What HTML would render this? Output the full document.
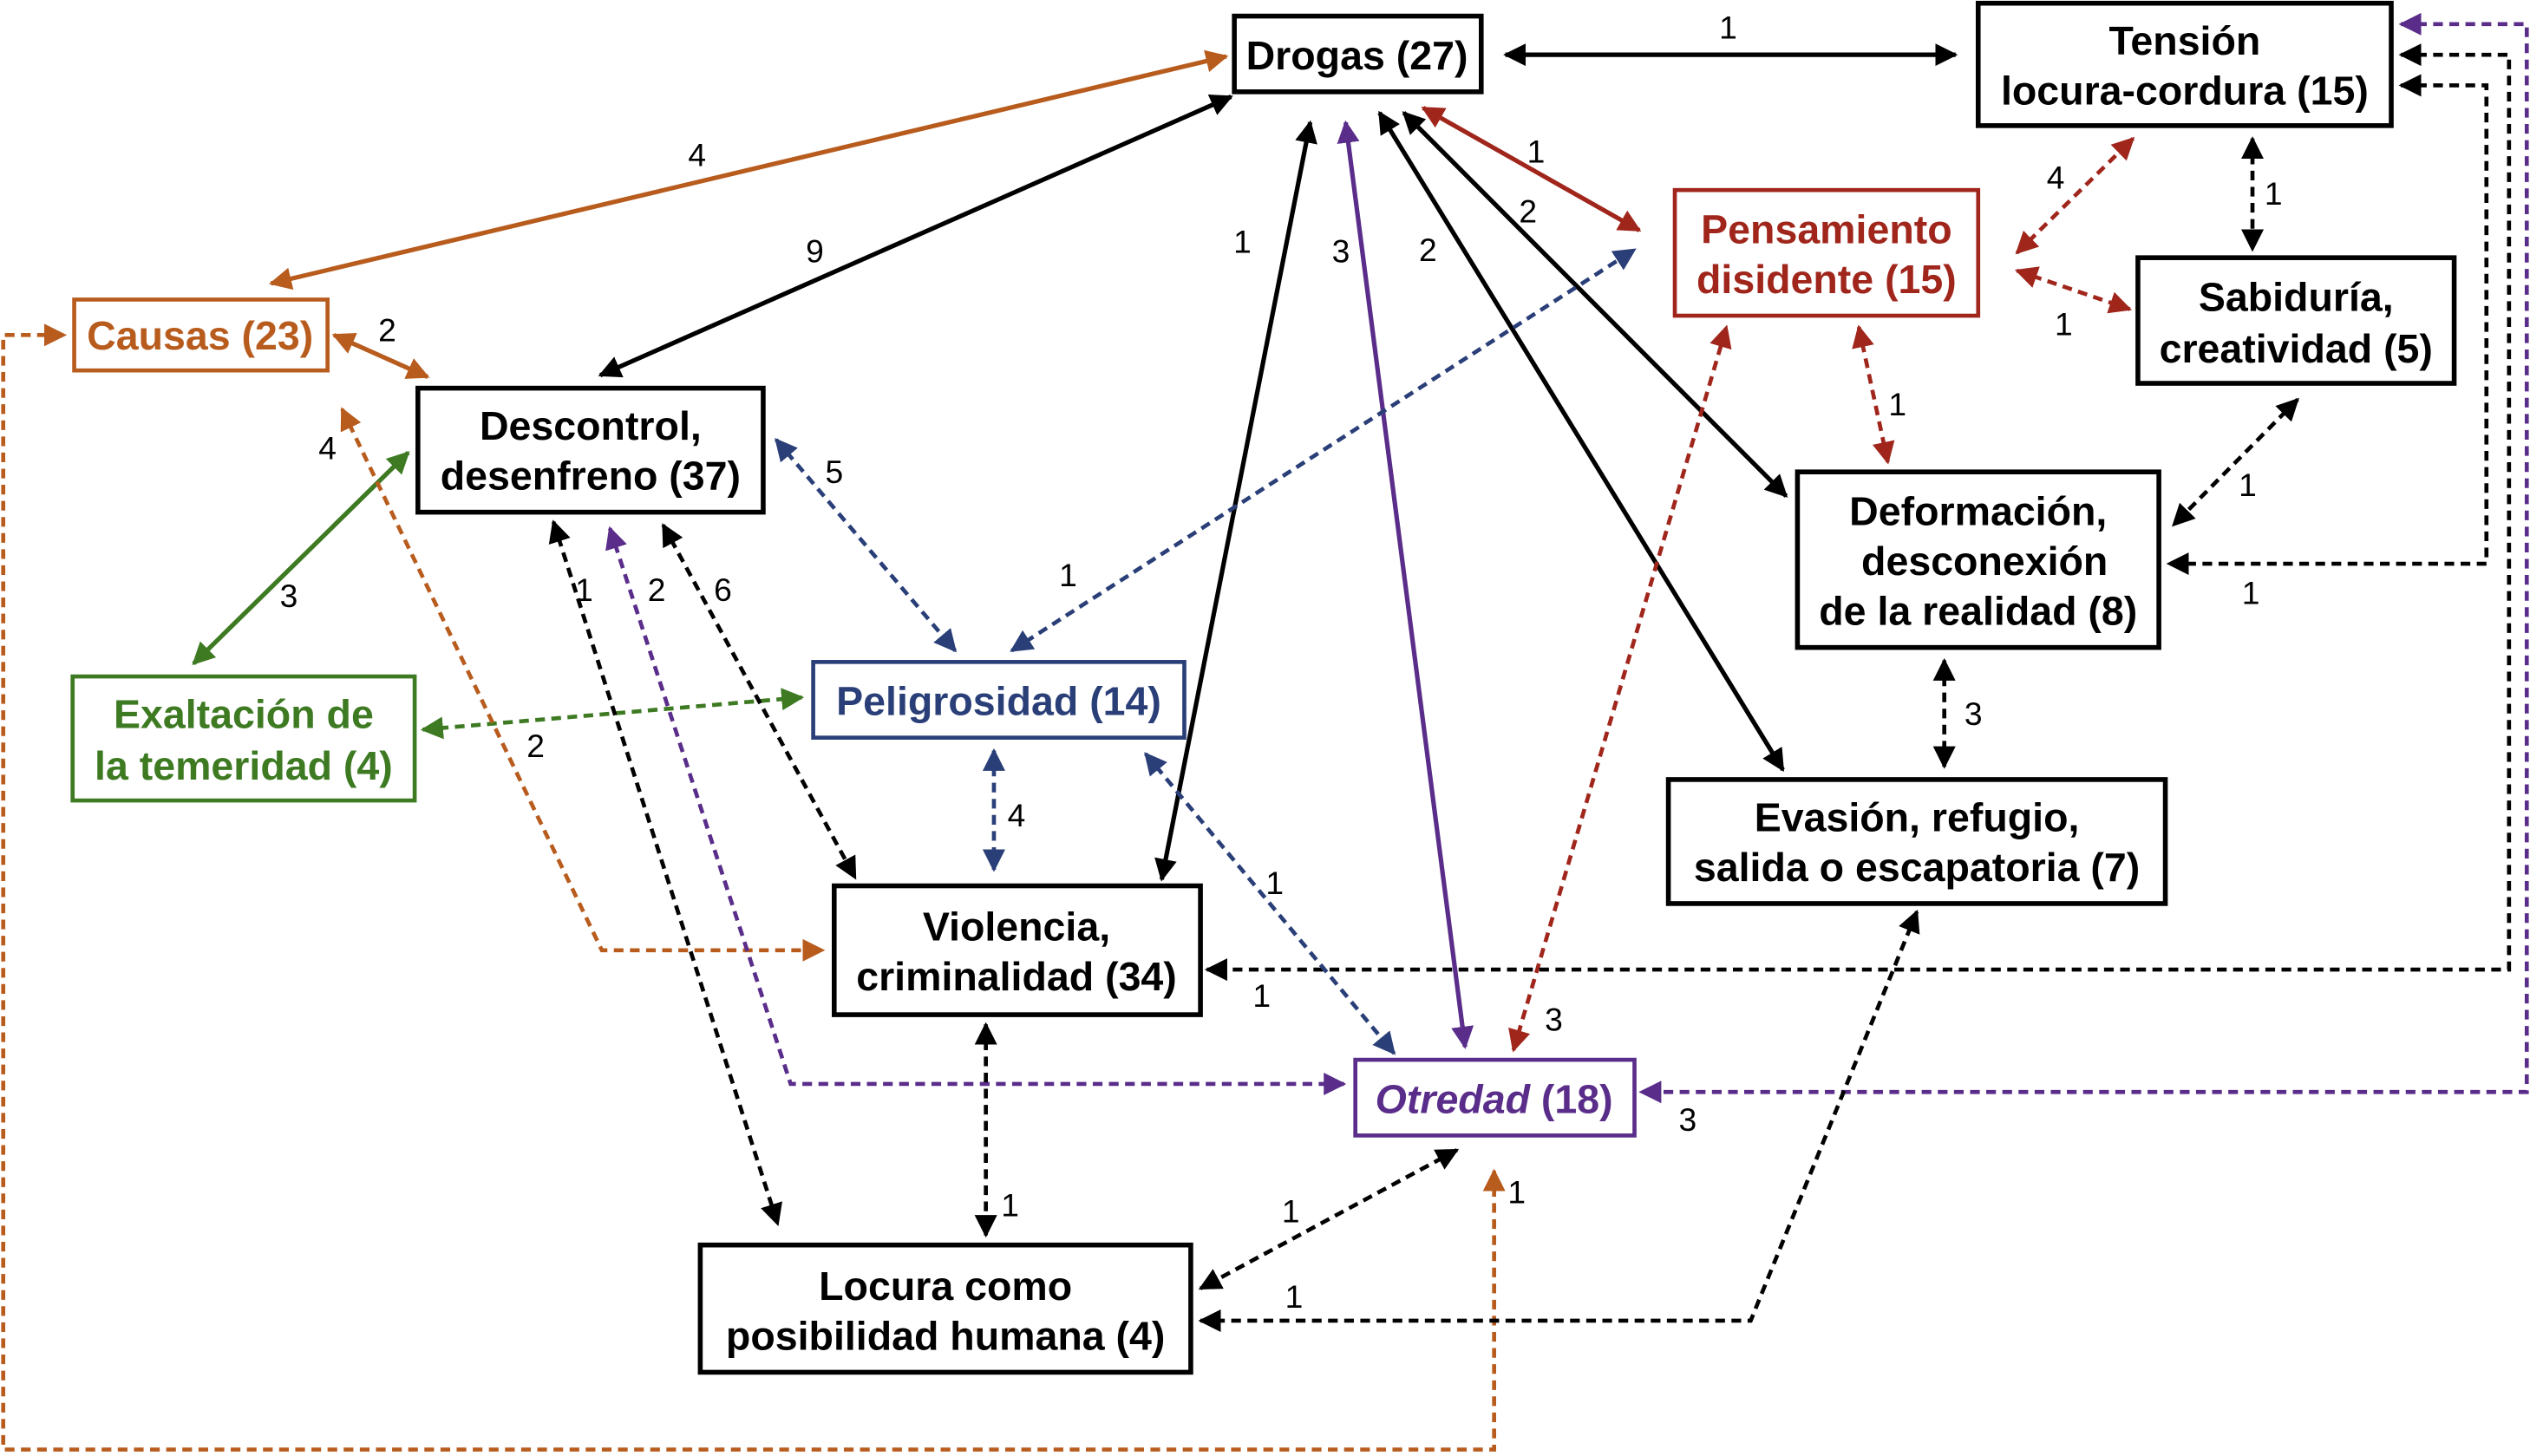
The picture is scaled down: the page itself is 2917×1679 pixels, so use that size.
<!DOCTYPE html>
<html><head><meta charset="utf-8"><style>
html,body{margin:0;padding:0;background:#fff;}
svg{display:block;}
text{font-family:"Liberation Sans",Arial,sans-serif;}
.b{font-weight:bold;font-size:25px;text-anchor:middle;}
.n{font-size:20px;text-anchor:middle;fill:#000;}
</style></head><body>
<svg width="2917" height="1679" viewBox="0 0 1568 904" preserveAspectRatio="none" xmlns="http://www.w3.org/2000/svg">
<defs>
<marker id="mk" viewBox="0 0 10 10" refX="9" refY="5" markerWidth="14" markerHeight="14" markerUnits="userSpaceOnUse" orient="auto-start-reverse"><path d="M0,0L10,5L0,10z" fill="#000"/></marker>
<marker id="mo" viewBox="0 0 10 10" refX="9" refY="5" markerWidth="14" markerHeight="14" markerUnits="userSpaceOnUse" orient="auto-start-reverse"><path d="M0,0L10,5L0,10z" fill="#b85c1e"/></marker>
<marker id="mr" viewBox="0 0 10 10" refX="9" refY="5" markerWidth="14" markerHeight="14" markerUnits="userSpaceOnUse" orient="auto-start-reverse"><path d="M0,0L10,5L0,10z" fill="#a0261c"/></marker>
<marker id="mg" viewBox="0 0 10 10" refX="9" refY="5" markerWidth="14" markerHeight="14" markerUnits="userSpaceOnUse" orient="auto-start-reverse"><path d="M0,0L10,5L0,10z" fill="#3d7a22"/></marker>
<marker id="mb" viewBox="0 0 10 10" refX="9" refY="5" markerWidth="14" markerHeight="14" markerUnits="userSpaceOnUse" orient="auto-start-reverse"><path d="M0,0L10,5L0,10z" fill="#2a3f78"/></marker>
<marker id="mp" viewBox="0 0 10 10" refX="9" refY="5" markerWidth="14" markerHeight="14" markerUnits="userSpaceOnUse" orient="auto-start-reverse"><path d="M0,0L10,5L0,10z" fill="#5a2d8a"/></marker>
</defs>
<g fill="none" stroke-width="2.8">
<line x1="933" y1="34" x2="1212" y2="34" stroke="#000" marker-start="url(#mk)" marker-end="url(#mk)"/>
<line x1="168" y1="176" x2="760" y2="35" stroke="#b85c1e" marker-start="url(#mo)" marker-end="url(#mo)"/>
<line x1="372" y1="233" x2="763" y2="60" stroke="#000" marker-start="url(#mk)" marker-end="url(#mk)"/>
<line x1="207" y1="208" x2="265" y2="234" stroke="#b85c1e" marker-start="url(#mo)" marker-end="url(#mo)"/>
<line x1="120" y1="412" x2="253" y2="281" stroke="#3d7a22" marker-start="url(#mg)" marker-end="url(#mg)"/>
<line x1="720" y1="546" x2="812" y2="76" stroke="#000" marker-start="url(#mk)" marker-end="url(#mk)"/>
<line x1="908" y1="650" x2="834" y2="76" stroke="#5a2d8a" marker-start="url(#mp)" marker-end="url(#mp)"/>
<line x1="1105" y1="478" x2="855" y2="70" stroke="#000" marker-start="url(#mk)" marker-end="url(#mk)"/>
<line x1="1107" y1="308" x2="870" y2="70" stroke="#000" marker-start="url(#mk)" marker-end="url(#mk)"/>
<line x1="1016" y1="143" x2="882" y2="67" stroke="#a0261c" marker-start="url(#mr)" marker-end="url(#mr)"/>
</g>
<g fill="none" stroke-width="2.5" stroke-dasharray="6,4">
<line x1="627" y1="404" x2="1013" y2="155" stroke="#2a3f78" marker-start="url(#mb)" marker-end="url(#mb)"/>
<line x1="481" y1="273" x2="592" y2="404" stroke="#2a3f78" marker-start="url(#mb)" marker-end="url(#mb)"/>
<line x1="938" y1="652" x2="1070" y2="203" stroke="#a0261c" marker-start="url(#mr)" marker-end="url(#mr)"/>
<line x1="1250" y1="157" x2="1322" y2="86" stroke="#a0261c" marker-start="url(#mr)" marker-end="url(#mr)"/>
<line x1="1250" y1="168" x2="1320" y2="192" stroke="#a0261c" marker-start="url(#mr)" marker-end="url(#mr)"/>
<line x1="1152" y1="203" x2="1170" y2="287" stroke="#a0261c" marker-start="url(#mr)" marker-end="url(#mr)"/>
<line x1="1396" y1="86" x2="1396" y2="155" stroke="#000" marker-start="url(#mk)" marker-end="url(#mk)"/>
<line x1="1424" y1="248" x2="1347" y2="326" stroke="#000" marker-start="url(#mk)" marker-end="url(#mk)"/>
<line x1="1205" y1="410" x2="1205" y2="476" stroke="#000" marker-start="url(#mk)" marker-end="url(#mk)"/>
<polyline points="1488,53 1541,53 1541,350 1344,350" stroke="#000" marker-start="url(#mk)" marker-end="url(#mk)"/>
<polyline points="1488,34 1555,34 1555,602 748,602" stroke="#000" marker-start="url(#mk)" marker-end="url(#mk)"/>
<polyline points="1488,15 1566,15 1566,678 1017,678" stroke="#5a2d8a" marker-start="url(#mp)" marker-end="url(#mp)"/>
<line x1="262" y1="453" x2="497" y2="433" stroke="#3d7a22" marker-start="url(#mg)" marker-end="url(#mg)"/>
<polyline points="926,727 926,900 2,900 2,208 40,208" stroke="#b85c1e" marker-start="url(#mo)" marker-end="url(#mo)"/>
<polyline points="212,254 373,590 510,590" stroke="#b85c1e" marker-start="url(#mo)" marker-end="url(#mo)"/>
<line x1="343" y1="324" x2="482" y2="760" stroke="#000" marker-start="url(#mk)" marker-end="url(#mk)"/>
<polyline points="378,328 490,673 833,673" stroke="#5a2d8a" marker-start="url(#mp)" marker-end="url(#mp)"/>
<line x1="411" y1="326" x2="530" y2="545" stroke="#000" marker-start="url(#mk)" marker-end="url(#mk)"/>
<line x1="616" y1="466" x2="616" y2="540" stroke="#2a3f78" marker-start="url(#mb)" marker-end="url(#mb)"/>
<line x1="710" y1="468" x2="864" y2="654" stroke="#2a3f78" marker-start="url(#mb)" marker-end="url(#mb)"/>
<line x1="611" y1="636" x2="611" y2="767" stroke="#000" marker-start="url(#mk)" marker-end="url(#mk)"/>
<line x1="903" y1="714" x2="744" y2="800" stroke="#000" marker-start="url(#mk)" marker-end="url(#mk)"/>
<polyline points="1188,566 1085,820 744,820" stroke="#000" marker-start="url(#mk)" marker-end="url(#mk)"/>
</g>
<g fill="#fff" stroke-width="2.5">
<rect x="765" y="10" width="153" height="47" stroke="#000" stroke-width="3"/>
<rect x="1226" y="2" width="256" height="76" stroke="#000" stroke-width="3"/>
<rect x="1038" y="118" width="188" height="78" stroke="#a0261c"/>
<rect x="1325" y="160" width="196" height="78" stroke="#000" stroke-width="3"/>
<rect x="46" y="186" width="157" height="44" stroke="#b85c1e"/>
<rect x="259" y="241" width="214" height="77" stroke="#000" stroke-width="3"/>
<rect x="1114" y="293" width="224" height="109" stroke="#000" stroke-width="3"/>
<rect x="45" y="420" width="212" height="77" stroke="#3d7a22"/>
<rect x="504" y="411" width="230" height="47" stroke="#2a3f78"/>
<rect x="1034" y="484" width="308" height="77" stroke="#000" stroke-width="3"/>
<rect x="517" y="550" width="227" height="80" stroke="#000" stroke-width="3"/>
<rect x="840" y="658" width="173" height="47" stroke="#5a2d8a"/>
<rect x="434" y="773" width="304" height="79" stroke="#000" stroke-width="3"/>
</g>
<g class="b">
<text x="841" y="43" fill="#000">Drogas (27)</text>
<text x="1354" y="34" fill="#000">Tensión</text>
<text x="1354" y="65" fill="#000">locura-cordura (15)</text>
<text x="1132" y="151" fill="#a0261c">Pensamiento</text>
<text x="1132" y="182" fill="#a0261c">disidente (15)</text>
<text x="1423" y="193" fill="#000">Sabiduría,</text>
<text x="1423" y="225" fill="#000">creatividad (5)</text>
<text x="124" y="217" fill="#b85c1e">Causas (23)</text>
<text x="366" y="273" fill="#000">Descontrol,</text>
<text x="366" y="304" fill="#000">desenfreno (37)</text>
<text x="1226" y="326" fill="#000">Deformación,</text>
<text x="1230" y="357" fill="#000">desconexión</text>
<text x="1226" y="388" fill="#000">de la realidad (8)</text>
<text x="151" y="452" fill="#3d7a22">Exaltación de</text>
<text x="151" y="484" fill="#3d7a22">la temeridad (4)</text>
<text x="619" y="444" fill="#2a3f78">Peligrosidad (14)</text>
<text x="1188" y="516" fill="#000">Evasión, refugio,</text>
<text x="1188" y="547" fill="#000">salida o escapatoria (7)</text>
<text x="630" y="584" fill="#000">Violencia,</text>
<text x="630" y="615" fill="#000">criminalidad (34)</text>
<text x="926" y="691" fill="#5a2d8a"><tspan font-style="italic">Otredad</tspan> (18)</text>
<text x="586" y="807" fill="#000">Locura como</text>
<text x="586" y="838" fill="#000">posibilidad humana (4)</text>
</g>
<g class="n">
<text x="1071" y="24">1</text>
<text x="432" y="103">4</text>
<text x="505" y="163">9</text>
<text x="240" y="212">2</text>
<text x="203" y="285">4</text>
<text x="179" y="377">3</text>
<text x="770" y="157">1</text>
<text x="831" y="163">3</text>
<text x="885" y="162">2</text>
<text x="947" y="138">2</text>
<text x="952" y="101">1</text>
<text x="662" y="364">1</text>
<text x="517" y="300">5</text>
<text x="963" y="640">3</text>
<text x="1274" y="117">4</text>
<text x="1279" y="208">1</text>
<text x="1176" y="258">1</text>
<text x="1409" y="127">1</text>
<text x="1393" y="308">1</text>
<text x="1223" y="450">3</text>
<text x="1395" y="375">1</text>
<text x="782" y="625">1</text>
<text x="1046" y="702">3</text>
<text x="940" y="747">1</text>
<text x="332" y="470">2</text>
<text x="362" y="373">1</text>
<text x="407" y="373">2</text>
<text x="448" y="373">6</text>
<text x="630" y="513">4</text>
<text x="790" y="555">1</text>
<text x="626" y="755">1</text>
<text x="800" y="759">1</text>
<text x="802" y="812">1</text>
</g>
</svg>
</body></html>
